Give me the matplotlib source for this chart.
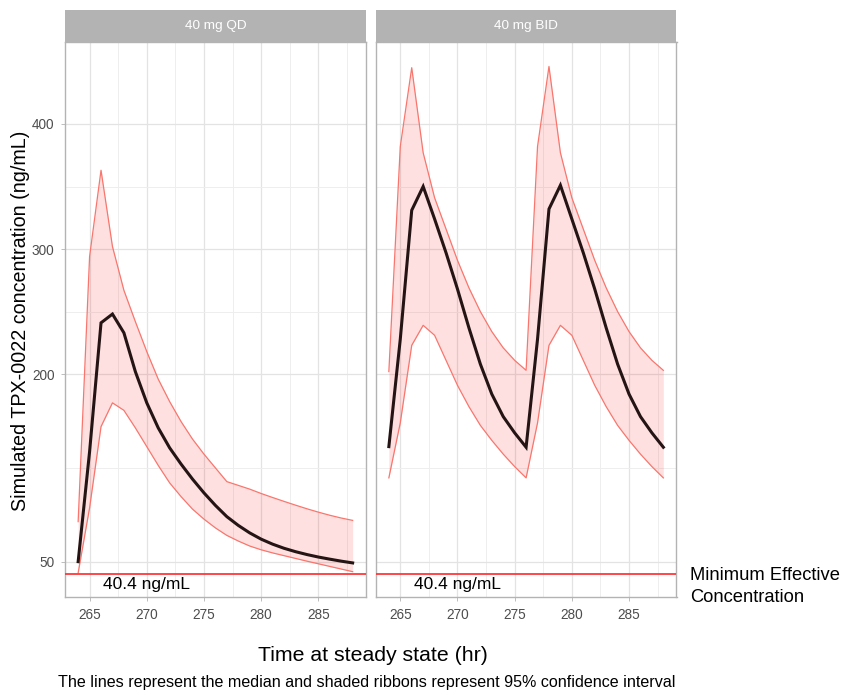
import matplotlib
matplotlib.use("Agg")
import matplotlib.pyplot as plt
from matplotlib.ticker import FixedLocator

plt.rcParams['font.family'] = ['Liberation Sans', 'DejaVu Sans']

# ---------------- data ----------------
hours = [264, 265, 266, 267, 268, 269, 270, 271, 272, 273, 274, 275, 276,
         277, 278, 279, 280, 281, 282, 283, 284, 285, 286, 287, 288]

qd_median = [50, 138, 241, 248, 233, 202, 177, 157, 141, 128, 116, 105, 95,
             86, 79, 73, 68, 64, 60.7, 58, 55.7, 53.7, 52, 50.4, 49]
qd_upper = [82, 294, 363, 302, 267, 242, 218, 196, 178, 162, 148, 136, 125,
            114, 111, 108, 104.5, 101.3, 98.2, 95.2, 92.3, 89.6, 87.1, 84.9, 83]
qd_lower = [41, 93, 158, 177, 171, 157, 142, 127, 113, 102, 92, 84, 77,
            71, 66.5, 62.5, 59.5, 57, 54.8, 52.6, 50.4, 48.3, 46.2, 44.1, 42]

bid_median = [142, 228, 331, 350, 324, 297, 268, 237, 208, 184, 166, 153, 141.5,
              228, 332, 351, 324, 297, 268, 237, 208, 184, 166, 153, 141.5]
bid_upper = [202, 382, 445, 377, 341, 316, 291, 269, 250, 234, 221, 211, 203,
             382, 446, 377, 341, 316, 291, 269, 250, 234, 221, 211, 203]
bid_lower = [117, 161, 223, 239, 231, 211, 191, 174, 159, 147, 136, 126, 117,
             161, 223, 239, 231, 211, 191, 174, 159, 147, 136, 126, 117]

panel_titles = ["40 mg QD", "40 mg BID"]
mec_value = 40.4
mec_label = "40.4 ng/mL"
x_ticks = [265, 270, 275, 280, 285]
x_minor = [267.5, 272.5, 277.5, 282.5, 287.5]
y_ticks = [50, 200, 300, 400]
y_minor = [125, 250, 350]

series = [(qd_median, qd_upper, qd_lower), (bid_median, bid_upper, bid_lower)]

# ---------------- layout ----------------
W, H = 845, 690
fig = plt.figure(figsize=(W / 100, H / 100), dpi=100)

def fx(px):
    return px / W

def fy(py):
    return (H - py) / H

panel_top, panel_bot = 41.7, 597.3
panel_lefts = [65.0, 375.7]
panel_w = 300.8

grey70 = '#B3B3B3'
grey30 = '#4D4D4D'

for i, left in enumerate(panel_lefts):
    ax = fig.add_axes([fx(left), fy(panel_bot), panel_w / W, (panel_bot - panel_top) / H])
    med, up, lo = series[i]
    ax.set_xlim(262.85, 289.15)
    ax.set_ylim(21.5, 465.8)
    ax.xaxis.set_major_locator(FixedLocator(x_ticks))
    ax.xaxis.set_minor_locator(FixedLocator(x_minor))
    ax.yaxis.set_major_locator(FixedLocator(y_ticks))
    ax.yaxis.set_minor_locator(FixedLocator(y_minor))
    ax.grid(True, which='major', color='#E3E3E3', linewidth=0.9, zorder=0)
    ax.grid(True, which='minor', color='#EEEEEE', linewidth=0.7, zorder=0)
    ax.set_axisbelow(True)
    for s in ax.spines.values():
        s.set_color(grey70)
        s.set_linewidth(1.0)
    ax.tick_params(axis='both', which='major', colors=grey70, length=3, width=0.6,
                   labelcolor=grey30, labelsize=9.8, pad=4.5)
    ax.tick_params(axis='both', which='minor', length=0)
    if i == 1:
        ax.tick_params(axis='y', which='major', labelleft=False, length=0)

    ax.fill_between(hours, lo, up, color='red', alpha=0.12, linewidth=0, zorder=2)
    ax.plot(hours, up, color='#F8766D', linewidth=0.9, zorder=3)
    ax.plot(hours, lo, color='#F8766D', linewidth=0.9, zorder=3)
    ax.plot(hours, med, color='#251414', linewidth=2.2, zorder=4,
            solid_joinstyle='miter')
    ax.axhline(mec_value, color='#FF3838', linewidth=1.3, zorder=5)
    ax.text(270, 27.9, mec_label, ha='center', va='baseline', fontsize=12.5,
            color='black', zorder=6)

    # strip
    sax = fig.add_axes([fx(left), fy(panel_top), panel_w / W, (panel_top - 10) / H])
    sax.set_facecolor(grey70)
    sax.set_xticks([])
    sax.set_yticks([])
    for s in sax.spines.values():
        s.set_visible(False)
    sax.text(0.5, 0.5, panel_titles[i], transform=sax.transAxes, ha='center',
             va='center', color='white', fontsize=9.7)

# axis titles
fig.text(fx(21), fy(321), "Simulated TPX-0022 concentration (ng/mL)", rotation=90,
         ha='center', va='center', fontsize=14.2, color='black')
fig.text(fx(373), fy(661), "Time at steady state (hr)", ha='center', va='baseline',
         fontsize=15.3, color='black')
fig.text(fx(367), fy(687), "The lines represent the median and shaded ribbons represent 95% confidence interval",
         ha='center', va='baseline', fontsize=11.6, color='black')
fig.text(fx(690), fy(580), "Minimum Effective", ha='left', va='baseline',
         fontsize=13.2, color='black')
fig.text(fx(690), fy(601.7), "Concentration", ha='left', va='baseline',
         fontsize=13.2, color='black')

fig.savefig("out.png", dpi=100)
